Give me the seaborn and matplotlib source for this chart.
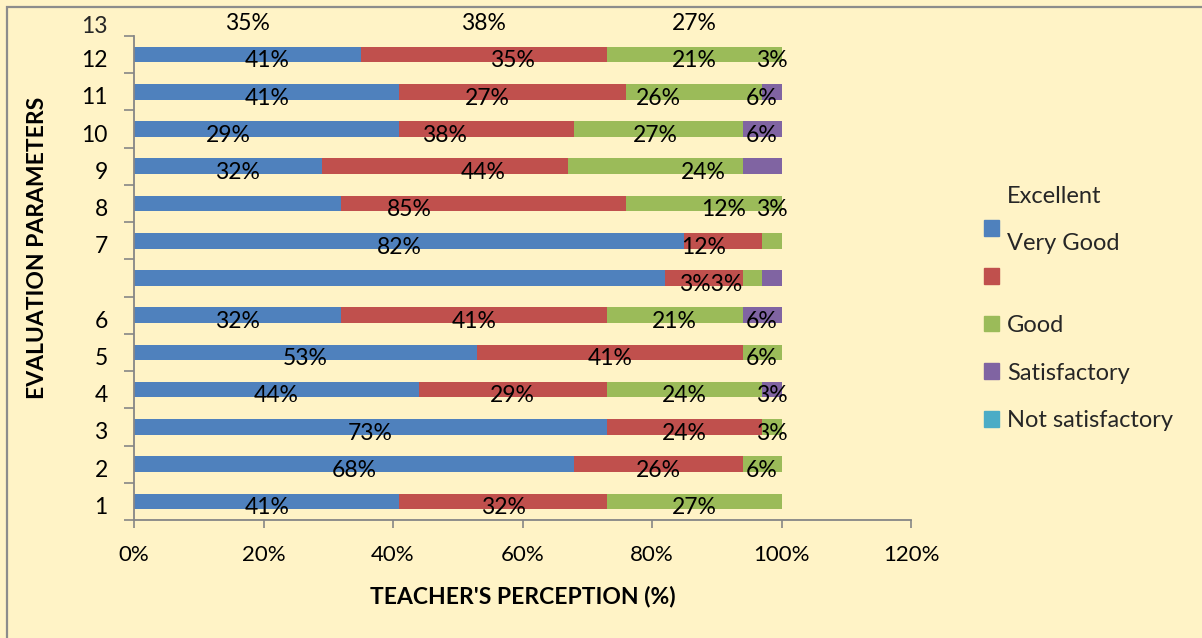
import numpy as np
import pandas as pd
import matplotlib.pyplot as plt
import matplotlib.transforms as mtrans
import seaborn as sns
from matplotlib.patches import Rectangle

# bar rows from bottom to top; the 7th bar has no category label
positions = list(range(13))
row_labels = ['1', '2', '3', '4', '5', '6', '', '7', '8', '9', '10', '11', '12']
top_label = '13'

series = ['Excellent', 'Very Good', 'Good', 'Satisfactory', 'Not satisfactory']
excellent = [41, 68, 73, 44, 53, 32, 82, 85, 32, 29, 41, 41, 35]
very_good = [32, 26, 24, 29, 41, 41, 12, 12, 44, 38, 27, 35, 38]
good = [27, 6, 3, 24, 6, 21, 3, 3, 24, 27, 26, 21, 27]
satisfactory = [0, 0, 0, 3, 0, 6, 3, 0, 0, 6, 6, 3, 0]
not_satisfactory = [0, 0, 0, 0, 0, 0, 0, 0, 0, 0, 0, 0, 0]

x_ticks = [0, 20, 40, 60, 80, 100, 120]

colors = ['#4F81BD', '#C0504D', '#9BBB59', '#8064A2', '#4BACC6']
bg = '#FFF3C6'
grey = '#868686'

df = pd.DataFrame({
    'pos': positions,
    'Excellent': excellent,
    'Very Good': very_good,
    'Good': good,
    'Satisfactory': satisfactory,
    'Not satisfactory': not_satisfactory,
})
cum = df[series].cumsum(axis=1)

sns.set_theme(style='white')
plt.rcParams['font.family'] = ['Lato', 'DejaVu Sans']

fig = plt.figure(figsize=(12.02, 6.38), dpi=100)
fig.patch.set_facecolor(bg)
ax = fig.add_axes([0.1115, 0.185, 0.6464, 0.7586])
ax.set_facecolor(bg)

# stacked bars: draw cumulative totals from the last series backwards
for name, color in reversed(list(zip(series, colors))):
    sns.barplot(x=cum[name], y=df['pos'], orient='y', native_scale=True,
                color=color, width=0.42, saturation=1, errorbar=None,
                linewidth=0, edgecolor='none', ax=ax)

ax.set_xlim(0, 120)
ax.set_ylim(-0.5, 12.5)

# data labels (in the source they sit one row above their bar from the blank bar on)
lab_kw = dict(fontsize=16.5, color='black', va='center', clip_on=False)
dy = 0.17
for i, p in enumerate(positions):
    lp = p if p < 6 else p + 1
    vals = df.loc[i, series].tolist()
    left = 0
    for k, v in enumerate(vals):
        if v > 0 and not (p == 6 and k >= 2):
            ax.text(left + v / 2, lp - dy, f'{v}%', ha='center', **lab_kw)
        left += v
# the two small labels of the blank bar stay on its row, pushed left
ax.text(excellent[6] + very_good[6], 6 - dy, f'{good[6]}%{satisfactory[6]}%', ha='right', **lab_kw)

# axes styling
for s in ['top', 'right']:
    ax.spines[s].set_visible(False)
for s in ['left', 'bottom']:
    ax.spines[s].set_color(grey)
    ax.spines[s].set_linewidth(1.3)

ax.set_xticks(x_ticks, [f'{t}%' for t in x_ticks])
ax.tick_params(axis='x', direction='out', length=6, width=1.2, color=grey,
               pad=12, labelsize=16, labelcolor='black', bottom=True)
ax.set_yticks(positions, row_labels)
ax.set_yticks(np.arange(-0.5, 13, 1), minor=True)
ax.tick_params(axis='y', which='major', length=0, pad=19, labelsize=16.5, labelcolor='black', left=True)
ax.tick_params(axis='y', which='minor', direction='out', length=7, width=1.2, color=grey, left=True)
shift = mtrans.ScaledTranslation(0, -4 / 100, fig.dpi_scale_trans)
for t in ax.get_yticklabels():
    t.set_transform(t.get_transform() + shift)
ax.annotate(top_label, xy=(0, 13 - dy - 0.08), xycoords=('axes fraction', 'data'),
            xytext=(-19, 0), textcoords='offset points', ha='right', va='center',
            fontsize=16.5, annotation_clip=False)

ax.set_xlabel("TEACHER'S PERCEPTION (%)", fontsize=16.5, fontweight='bold', color='black')
ax.xaxis.set_label_coords(0.5, -0.159)
ax.xaxis.label.set_va('center')
ax.set_ylabel('EVALUATION PARAMETERS', fontsize=16.5, fontweight='bold', color='black')
ax.yaxis.set_label_coords(-0.1236, 0.562)
ax.yaxis.label.set_va('center')

# legend (the first two entries have their text drawn separately)
handles = [plt.Rectangle((0, 0), 1, 1, color=c) for c in colors]
leg = fig.legend(handles, [' ', ' ', 'Good', 'Satisfactory', 'Not satisfactory'],
                 loc='upper left', bbox_to_anchor=(0.8186, 0.656), frameon=False,
                 fontsize=17, handlelength=0.64, handleheight=0.64, handletextpad=0.34,
                 labelspacing=1.13, borderpad=0, borderaxespad=0)
fig.text(1007 / 1202, 1 - 196 / 638, 'Excellent', fontsize=17, va='center', ha='left')
fig.text(1007 / 1202, 1 - 243 / 638, 'Very Good', fontsize=17, va='center', ha='left')

# chart area border, running off the right and bottom edges
fig.add_artist(Rectangle((7 / 1202, -0.1), 1.2, 1 - 7 / 638 + 0.1, transform=fig.transFigure,
                         fill=False, edgecolor='#8C8C8C', lw=1.6))

fig.savefig('out.png', dpi=100, facecolor=bg)
